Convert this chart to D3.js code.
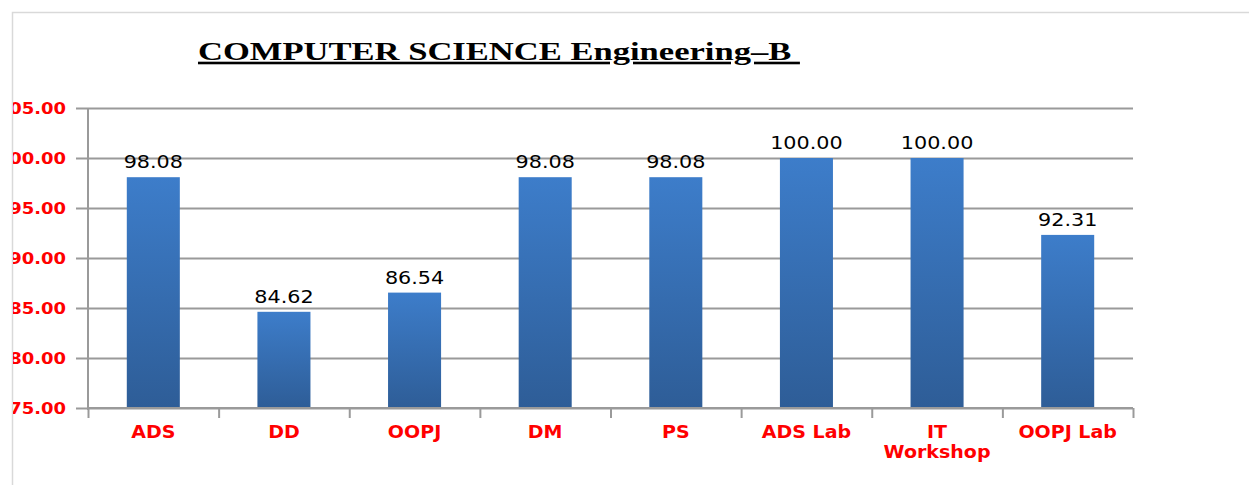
<!DOCTYPE html>
<html>
<head>
<meta charset="utf-8">
<script src="https://cdn.jsdelivr.net/npm/d3@7"></script>
<style>
  body { margin: 0; background: #fff; }
  svg { display: block; }
</style>
</head>
<body>
<div id="chart"></div>
<script>
// chart data
var subjects = ["ADS", "DD", "OOPJ", "DM", "PS", "ADS Lab", "IT Workshop", "OOPJ Lab"]
var passPercent = [98.08, 84.62, 86.54, 98.08, 98.08, 100.00, 100.00, 92.31]
var yTicks = [75, 80, 85, 90, 95, 100, 105]
var title = "COMPUTER SCIENCE Engineering\u2013B "

var width = 1249,
  height = 485
var plotLeft = 88, plotRight = 1133, plotTop = 108, plotBottom = 408

// the original image is stretched sideways, so texts get widened too
function stretch(sel, f, ax) {
  sel.attr("transform", "translate(" + ax + ",0) scale(" + f + ",1) translate(" + (-ax) + ",0)")
}

var svg = d3.select("#chart")
  .append("svg")
  .attr("width", width)
  .attr("height", height)

var defs = svg.append("defs")
var grad = defs.append("linearGradient")
  .attr("id", "barGrad")
  .attr("x1", 0).attr("y1", 0).attr("x2", 0).attr("y2", 1)
grad.append("stop").attr("offset", "0%").attr("stop-color", "#3d7dca")
grad.append("stop").attr("offset", "100%").attr("stop-color", "#2e5d97")

defs.append("clipPath").attr("id", "area")
  .append("rect").attr("x", 13).attr("y", 13).attr("width", width).attr("height", height)

// chart border
svg.append("path")
  .attr("d", "M12.5," + height + "V12.5H" + width)
  .attr("fill", "none")
  .attr("stroke", "#d9d9d9")
  .attr("stroke-width", 1.5)

var x = d3.scaleBand()
  .domain(subjects)
  .range([plotLeft, plotRight])
  .paddingInner(0.594)
  .paddingOuter(0.297)

var y = d3.scaleLinear()
  .domain([75, 105])
  .range([plotBottom, plotTop])

var g = svg.append("g").attr("clip-path", "url(#area)")

// gridlines + y labels
var yAxis = d3.axisLeft(y)
  .tickValues(yTicks)
  .tickSize(-(plotRight - plotLeft) - 12)
  .tickPadding(10)
  .tickFormat(d3.format(".2f"))

var yg = g.append("g")
  .attr("transform", "translate(" + (plotLeft - 12) + ",0)")
  .call(yAxis)
yg.select(".domain").remove()
yg.selectAll(".tick line")
  .attr("stroke", "#9a9a9a")
  .attr("stroke-width", 2)
yg.selectAll(".tick text")
  .attr("fill", "#ff0000")
  .attr("font-family", "'DejaVu Sans', Verdana, sans-serif")
  .attr("font-weight", "bold")
  .attr("font-size", 15)
  .attr("x", -10)
  .attr("dy", "0.36em")
  .call(stretch, 1.2, -10)

// vertical axis line
g.append("line")
  .attr("x1", plotLeft).attr("x2", plotLeft)
  .attr("y1", plotTop).attr("y2", plotBottom + 2)
  .attr("stroke", "#9a9a9a").attr("stroke-width", 2)

// bars
g.selectAll("rect.bar")
  .data(subjects)
  .enter()
  .append("rect")
  .attr("class", "bar")
  .attr("x", function (d) { return x(d) })
  .attr("width", x.bandwidth())
  .attr("y", function (d, i) { return y(passPercent[i]) })
  .attr("height", function (d, i) { return plotBottom - y(passPercent[i]) })
  .attr("fill", "url(#barGrad)")

// value labels
g.selectAll("text.val")
  .data(subjects)
  .enter()
  .append("text")
  .attr("class", "val")
  .attr("x", function (d) { return x(d) + x.bandwidth() / 2 })
  .attr("y", function (d, i) { return y(passPercent[i]) - 9 })
  .attr("text-anchor", "middle")
  .attr("font-family", "'DejaVu Sans', sans-serif")
  .attr("font-size", 17)
  .attr("fill", "#000")
  .text(function (d, i) { return passPercent[i].toFixed(2) })
  .each(function (d) { stretch(d3.select(this), 1.22, x(d) + x.bandwidth() / 2) })

// x axis (bottom)
var xEdges = d3.scaleLinear().domain([0, subjects.length]).range([plotLeft, plotRight])
var xAxis = d3.axisBottom(xEdges)
  .tickValues(d3.range(subjects.length + 1))
  .tickSize(10)
  .tickFormat("")
var xg = g.append("g")
  .attr("transform", "translate(0," + plotBottom + ")")
  .call(xAxis)
xg.select(".domain")
  .attr("d", "M" + plotLeft + ",0H" + plotRight)
  .attr("stroke", "#9a9a9a").attr("stroke-width", 2)
xg.selectAll(".tick line").attr("stroke", "#9a9a9a").attr("stroke-width", 2)

// category labels
var labels = g.selectAll("text.cat")
  .data(subjects)
  .enter()
  .append("text")
  .attr("class", "cat")
  .attr("x", function (d) { return x(d) + x.bandwidth() / 2 })
  .attr("y", 438)
  .attr("text-anchor", "middle")
  .attr("font-family", "'DejaVu Sans', Verdana, sans-serif")
  .attr("font-weight", "bold")
  .attr("font-size", 17)
  .attr("fill", "#ff0000")
labels.each(function (d) {
  var words = d === "IT Workshop" ? ["IT", "Workshop"] : [d]
  var t = d3.select(this)
  words.forEach(function (w, i) {
    t.append("tspan")
      .attr("x", t.attr("x"))
      .attr("dy", i === 0 ? 0 : 20)
      .text(w)
  })
  stretch(t, 1.12, x(d) + x.bandwidth() / 2)
})

// title
var titleText = svg.append("text")
  .attr("x", 198)
  .attr("y", 60)
  .attr("font-family", "'Liberation Serif', 'Times New Roman', serif")
  .attr("font-weight", "bold")
  .attr("font-size", 26)
  .attr("text-decoration", "underline")
  .attr("fill", "#000")
  .style("white-space", "pre")
  .text(title)
var tw = titleText.node().getComputedTextLength()
stretch(titleText, 602 / tw, 198)
</script>
</body>
</html>
